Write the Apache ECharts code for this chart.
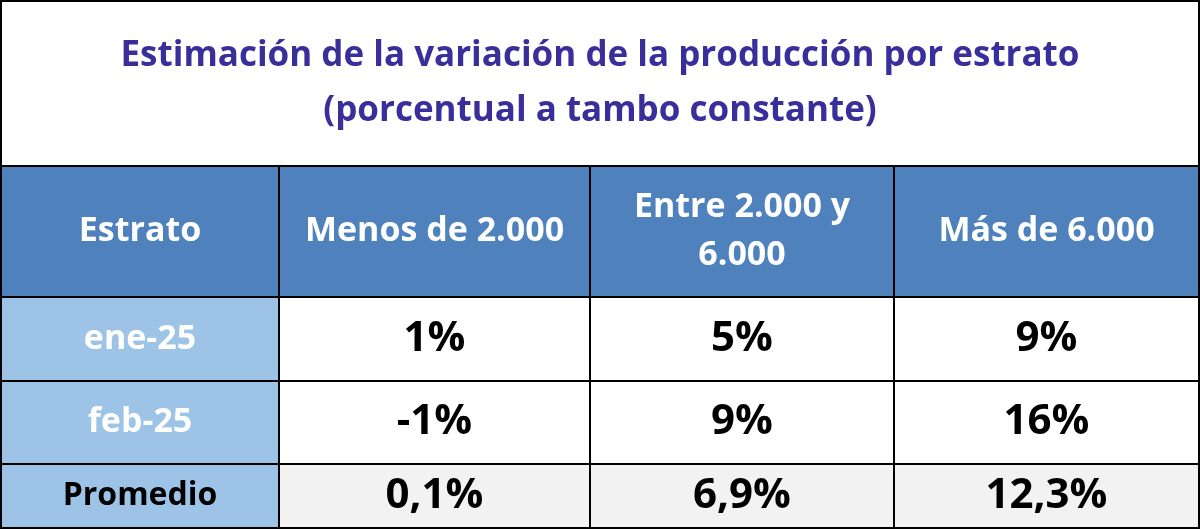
<!DOCTYPE html>
<html><head><meta charset="utf-8">
<script src="https://cdn.jsdelivr.net/npm/echarts@6/dist/echarts.min.js"></script>
<style>html,body{margin:0;padding:0;background:#fff}#main{width:1200px;height:529px}</style>
</head><body><div id="main"></div>
<script>
// datos
var titulo = 'Estimación de la variación de la producción por estrato\n(porcentual a tambo constante)';
var encabezados = ['Estrato', 'Menos de 2.000', 'Entre 2.000 y\n6.000', 'Más de 6.000'];
var filas = ['ene-25', 'feb-25', 'Promedio'];
var ene25 = ['1%', '5%', '9%'];
var feb25 = ['-1%', '9%', '16%'];
var promedio = ['0,1%', '6,9%', '12,3%'];

// layout
var colEdges = [1, 279, 590, 894, 1199];
var rowEdges = [1, 166, 297, 381, 464, 528];
var fuente = 'Open Sans';

var cells = [];
cells.push([0, 4, 0, titulo, '#ffffff', '#3a2f9a', 35, 55]);
encabezados.forEach(function (t, j) { cells.push([j, j + 1, 1, t, '#4f81bd', '#ffffff', 34, 48]); });
var valores = [ene25, feb25, promedio];
filas.forEach(function (f, i) {
	cells.push([0, 1, i + 2, f, '#9dc3e6', i < 2 ? '#ffffff' : '#000000', i < 2 ? 34 : 32, 40]);
	valores[i].forEach(function (v, j) {
		cells.push([j + 1, j + 2, i + 2, v, i < 2 ? '#ffffff' : '#f2f2f2', '#000000', 42, 50]);
	});
});

var chart = echarts.init(document.getElementById('main'));
chart.setOption({
	animation: false,
	grid: { left: 0, right: 0, top: 0, bottom: 0 },
	xAxis: { type: 'value', min: 0, max: 1200, show: false },
	yAxis: { type: 'value', min: 0, max: 529, inverse: true, show: false },
	series: [{
		type: 'custom',
		data: cells,
		renderItem: function (params, api) {
			var d = cells[params.dataIndex];
			var p0 = api.coord([colEdges[d[0]], rowEdges[d[2]]]);
			var p1 = api.coord([colEdges[d[1]], rowEdges[d[2] + 1]]);
			return {
				type: 'group',
				children: [{
					type: 'rect',
					shape: { x: p0[0], y: p0[1], width: p1[0] - p0[0], height: p1[1] - p0[1] },
					style: { fill: d[4], stroke: '#000', lineWidth: 2 }
				}, {
					type: 'text',
					x: (p0[0] + p1[0]) / 2, y: (p0[1] + p1[1]) / 2,
					style: {
						text: d[3], fill: d[5], align: 'center', verticalAlign: 'middle',
						font: 'bold ' + d[6] + 'px "' + fuente + '"', lineHeight: d[7]
					}
				}]
			};
		}
	}]
});
</script></body></html>
